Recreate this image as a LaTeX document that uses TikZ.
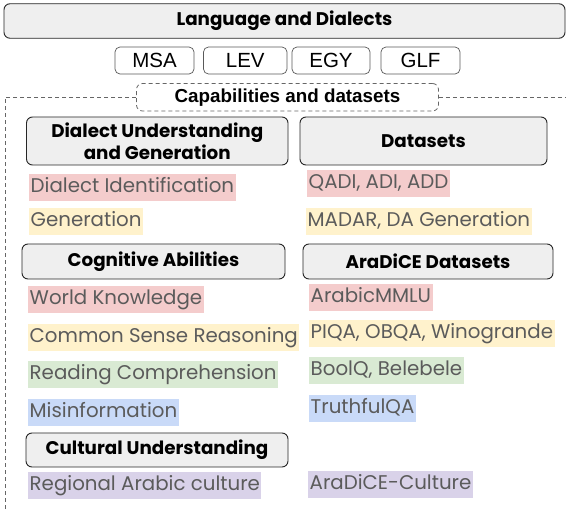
\documentclass[tikz,border=0pt]{standalone}
\usepackage{fontspec}
\setmainfont{Poppins}
\newfontfamily\robo{Liberation Sans}
\definecolor{boxfill}{HTML}{EFEFEF}
\definecolor{txtgray}{HTML}{5B5B5B}
\definecolor{hred}{HTML}{F4CCCC}
\definecolor{hyel}{HTML}{FFF2CC}
\definecolor{hgrn}{HTML}{D9EAD3}
\definecolor{hblu}{HTML}{C9DAF8}
\definecolor{hpur}{HTML}{D9D2E9}
\begin{document}
\begin{tikzpicture}[x=1pt,y=-1pt]
\useasboundingbox[fill=white] (0,0) rectangle (566,510);
\tikzset{
  hdr/.style={draw=black!85, fill=boxfill, rounded corners=6pt, line width=0.9pt,
    font=\bfseries\fontsize{18.3}{20}\selectfont, align=center, inner sep=0pt},
  dia/.style={draw=black!65, rounded corners=5pt, line width=0.7pt,
    font=\robo\fontsize{20.5}{22}\selectfont, inner sep=0pt, minimum height=27pt},
  capbox/.style={draw=black!60, dashed, dash pattern=on 4pt off 3pt, rounded corners=6pt,
    line width=0.8pt, font=\robo\bfseries\fontsize{18.8}{20}\selectfont, inner sep=0pt,
    minimum width=302pt, minimum height=27.5pt},
  frame/.style={draw=black!60, dash pattern=on 4pt off 3pt, line width=0.8pt},
  item/.style={anchor=west, inner xsep=1.5pt, inner ysep=0pt, minimum height=27pt,
    text=txtgray, font=\fontsize{19.8}{22}\selectfont, text height=14.5pt, text depth=4.5pt},
}
% top
\node[hdr, minimum width=561pt, minimum height=34.5pt] (lang) at (284.5,21) {Language and Dialects};
\node[dia, minimum width=79pt] (msa) at (154.5,60.5) {MSA};
\node[dia, minimum width=83.5pt] (lev) at (245.25,60.5) {LEV};
\node[dia, minimum width=78pt] (egy) at (331,60.5) {EGY};
\node[dia, minimum width=79pt] (glf) at (420.5,60.5) {GLF};
% frame
\node[capbox] (cap) at (287.5,97.25) {Capabilities and datasets};
\coordinate (fl) at (5,97.25);
\coordinate (fb) at (5,512);
\coordinate (fr) at (568,97.25);
\draw[frame] (cap.west) -- (fl) -- (fb);
\draw[frame] (cap.east) -- (fr);
% section headers
\node[hdr, minimum width=261.5pt, minimum height=48pt, font=\bfseries\fontsize{18.3}{22}\selectfont] (du) at (157.25,141) {Dialect Understanding\\and Generation};
\node[hdr, minimum width=247pt, minimum height=48pt] (ds) at (423.5,141) {Datasets};
\node[hdr, minimum width=263pt, minimum height=35pt] (cog) at (153.5,261.5) {Cognitive Abilities};
\node[hdr, minimum width=250pt, minimum height=35pt] (ara) at (428,261.5) {AraDiCE Datasets};
\node[hdr, minimum width=262pt, minimum height=34pt] (cul) at (157,450) {Cultural Understanding};
% left items
\node[item, fill=hred] (did) at (29,187.5) {Dialect Identification};
\node[item, fill=hyel] (gen) at (29,221.5) {Generation};
\node[item, fill=hred] (wk) at (28,299.5) {World Knowledge};
\node[item, fill=hyel] (csr) at (28,337.5) {Common Sense Reasoning};
\node[item, fill=hgrn] (rc) at (28,374.5) {Reading Comprehension};
\node[item, fill=hblu] (mis) at (28,412.5) {Misinformation};
\node[item, fill=hpur] (rac) at (28,485.5) {Regional Arabic culture};
% right items
\node[item, fill=hred] (qadi) at (307,183.5) {QADI, ADI, ADD};
\node[item, fill=hyel] (madar) at (306,221.5) {MADAR, DA Generation};
\node[item, fill=hred] (mmlu) at (309,297.5) {ArabicMMLU};
\node[item, fill=hyel] (piqa) at (309,333.5) {PIQA, OBQA, Winogrande};
\node[item, fill=hgrn] (boolq) at (309,370.5) {BoolQ, Belebele};
\node[item, fill=hblu] (tqa) at (309,408.5) {TruthfulQA};
\node[item, fill=hpur] (acul) at (308,484.5) {AraDiCE-Culture};
\end{tikzpicture}
\end{document}
